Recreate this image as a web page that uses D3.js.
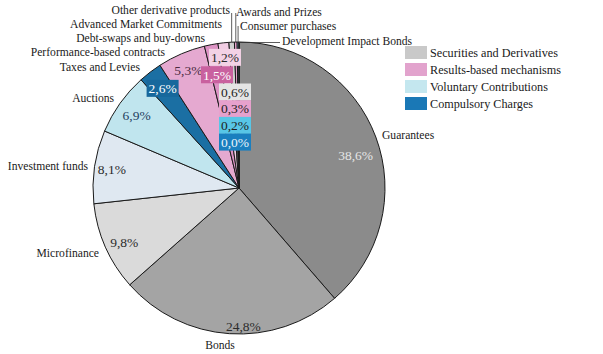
<!DOCTYPE html>
<html>
<head>
<meta charset="utf-8">
<script src="https://cdn.jsdelivr.net/npm/d3@7"></script>
<style>
  html, body { margin: 0; padding: 0; background: #fff; }
  svg { display: block; }
  svg text { font-family: "Liberation Serif", "DejaVu Serif", serif; }
</style>
</head>
<body>
<div id="chart"></div>
<script>
(function() {
    'use strict';

    // Data (clockwise from 12 o'clock)
    const categories = [
        'Guarantees', 'Bonds', 'Microfinance', 'Investment funds', 'Auctions',
        'Taxes and Levies', 'Performance-based contracts', 'Debt-swaps and buy-downs',
        'Advanced Market Commitments', 'Other derivative products', 'Awards and Prizes',
        'Consumer purchases', 'Development Impact Bonds'
    ];
    const values = [38.6, 24.8, 9.8, 8.1, 6.9, 2.6, 5.3, 1.5, 1.2, 0.6, 0.3, 0.2, 0.0];
    const legendLabels = ['Securities and Derivatives', 'Results-based mechanisms',
        'Voluntary Contributions', 'Compulsory Charges'];

    // Styles
    const sliceFill = ['#8b8b8b', '#a4a4a4', '#dadada', '#dfe8f1', '#c0e5ee', '#1b6fa3',
        '#e5a9d0', '#dc93c4', '#f1cde3', '#cfcfcf', '#e3a0cb', '#8fd3ea', '#1b7dbd'];
    const legendFill = ['#c9c9c9', '#e2a3cd', '#c4e7ef', '#1a78b6'];
    // percent label: radius factor (null = stacked box), angle shift (deg), text colour, box fill
    const pctStyle = [
        { k: 0.83, da: 4.8, color: '#e6e6e6' },
        { k: 0.95, da: -5.6, color: '#2b2b2b' },
        { k: 0.87, da: -1.5, color: '#2b2b2b' },
        { k: 0.88, da: 0, color: '#2b2b2b' },
        { k: 0.86, da: 0, color: '#23405e' },
        { k: 0.86, da: 0, color: '#ffffff', box: '#17689c' },
        { k: 0.88, da: 0, color: '#4a2a40' },
        { k: 0.79, da: 0, color: '#ffffff', box: '#c9619f' },
        { k: 0.90, da: 0, color: '#2b2b2b', box: '#f3d2e5' },
        { k: null, color: '#1e1e1e', box: '#e4e4e4' },
        { k: null, color: '#1e1e1e', box: '#e7a1cd' },
        { k: null, color: '#1e1e1e', box: '#58c6e6' },
        { k: null, color: '#e8f4fb', box: '#1a7fbf' }
    ];
    // name label placement [anchor, x, y]
    const nameLayout = [
        ['start', 382, 139], ['middle', 220, 349], ['end', 99, 257], ['end', 88, 170],
        ['end', 114, 102], ['end', 140, 71], ['end', 165, 56], ['end', 205, 42],
        ['end', 222, 28], ['end', 230, 14], ['start', 236, 16], ['start', 240, 30],
        ['start', 282, 45]
    ];

    const width = 603, height = 354;
    const cx = 239, cy = 188, radius = 146;

    const svg = d3.select('#chart').append('svg')
        .attr('width', width)
        .attr('height', height);

    const pie = d3.pie().sort(null).value(d => d)
        .startAngle(0).endAngle(2 * Math.PI);
    const arcs = pie(values);
    const arc = d3.arc().innerRadius(0).outerRadius(radius);

    const g = svg.append('g').attr('transform', `translate(${cx},${cy})`);

    g.selectAll('path.slice')
        .data(arcs)
        .enter().append('path')
        .attr('class', 'slice')
        .attr('d', arc)
        .attr('fill', (d, i) => sliceFill[i])
        .attr('stroke', '#1a1a1a')
        .attr('stroke-width', 1)
        .attr('stroke-linejoin', 'round');

    // Percent labels
    const fmt = v => d3.format('.1f')(v).replace('.', ',') + '%';
    const boxW = 32, boxH = 17;
    let stackY = 92;
    arcs.forEach((d, i) => {
        const s = pctStyle[i];
        let x, y;
        if (s.k !== null) {
            const a = (d.startAngle + d.endAngle) / 2 + s.da * Math.PI / 180;
            x = Math.sin(a) * radius * s.k;
            y = -Math.cos(a) * radius * s.k;
        } else {
            x = -4;
            y = stackY - cy;
            stackY += 16.7;
        }
        if (s.box) {
            g.append('rect')
                .attr('x', x - boxW / 2)
                .attr('y', y - boxH / 2)
                .attr('width', boxW)
                .attr('height', boxH)
                .attr('fill', s.box);
        }
        g.append('text')
            .attr('x', x)
            .attr('y', y)
            .attr('dy', '0.35em')
            .attr('text-anchor', 'middle')
            .attr('font-size', '13.5px')
            .attr('fill', s.color)
            .text(fmt(values[i]));
    });

    // Leader lines for the thin slices at the top
    const leaderTop = { 9: 13, 10: 13, 11: 26 };
    Object.keys(leaderTop).forEach(k => {
        const d = arcs[+k];
        const a = (d.startAngle + d.endAngle) / 2;
        const x = Math.sin(a) * radius;
        const y = -Math.cos(a) * radius;
        g.append('line')
            .attr('x1', x).attr('y1', y)
            .attr('x2', x).attr('y2', leaderTop[k] - cy)
            .attr('stroke', '#333')
            .attr('stroke-width', 0.8);
    });
    // Development Impact Bonds: horizontal leader
    g.append('line')
        .attr('x1', 0).attr('y1', -radius + 0.5)
        .attr('x2', nameLayout[12][1] - cx - 2).attr('y2', -radius + 0.5)
        .attr('stroke', '#333')
        .attr('stroke-width', 0.8);

    // Category names
    svg.selectAll('text.name')
        .data(categories)
        .enter().append('text')
        .attr('class', 'name')
        .attr('x', (d, i) => nameLayout[i][1])
        .attr('y', (d, i) => nameLayout[i][2])
        .attr('text-anchor', (d, i) => nameLayout[i][0])
        .attr('font-size', '11.6px')
        .attr('fill', '#1a1a1a')
        .text(d => d);

    // Legend
    const legend = svg.append('g').attr('transform', 'translate(405,46)');
    const rowH = 17;
    legend.selectAll('rect')
        .data(legendLabels)
        .enter().append('rect')
        .attr('x', 0)
        .attr('y', (d, i) => i * rowH)
        .attr('width', 22)
        .attr('height', 13)
        .attr('fill', (d, i) => legendFill[i]);
    legend.selectAll('text')
        .data(legendLabels)
        .enter().append('text')
        .attr('x', 25)
        .attr('y', (d, i) => i * rowH + 6.5)
        .attr('dy', '0.35em')
        .attr('font-size', '12.2px')
        .attr('fill', '#1a1a1a')
        .text(d => d);
})();
</script>
</body>
</html>
